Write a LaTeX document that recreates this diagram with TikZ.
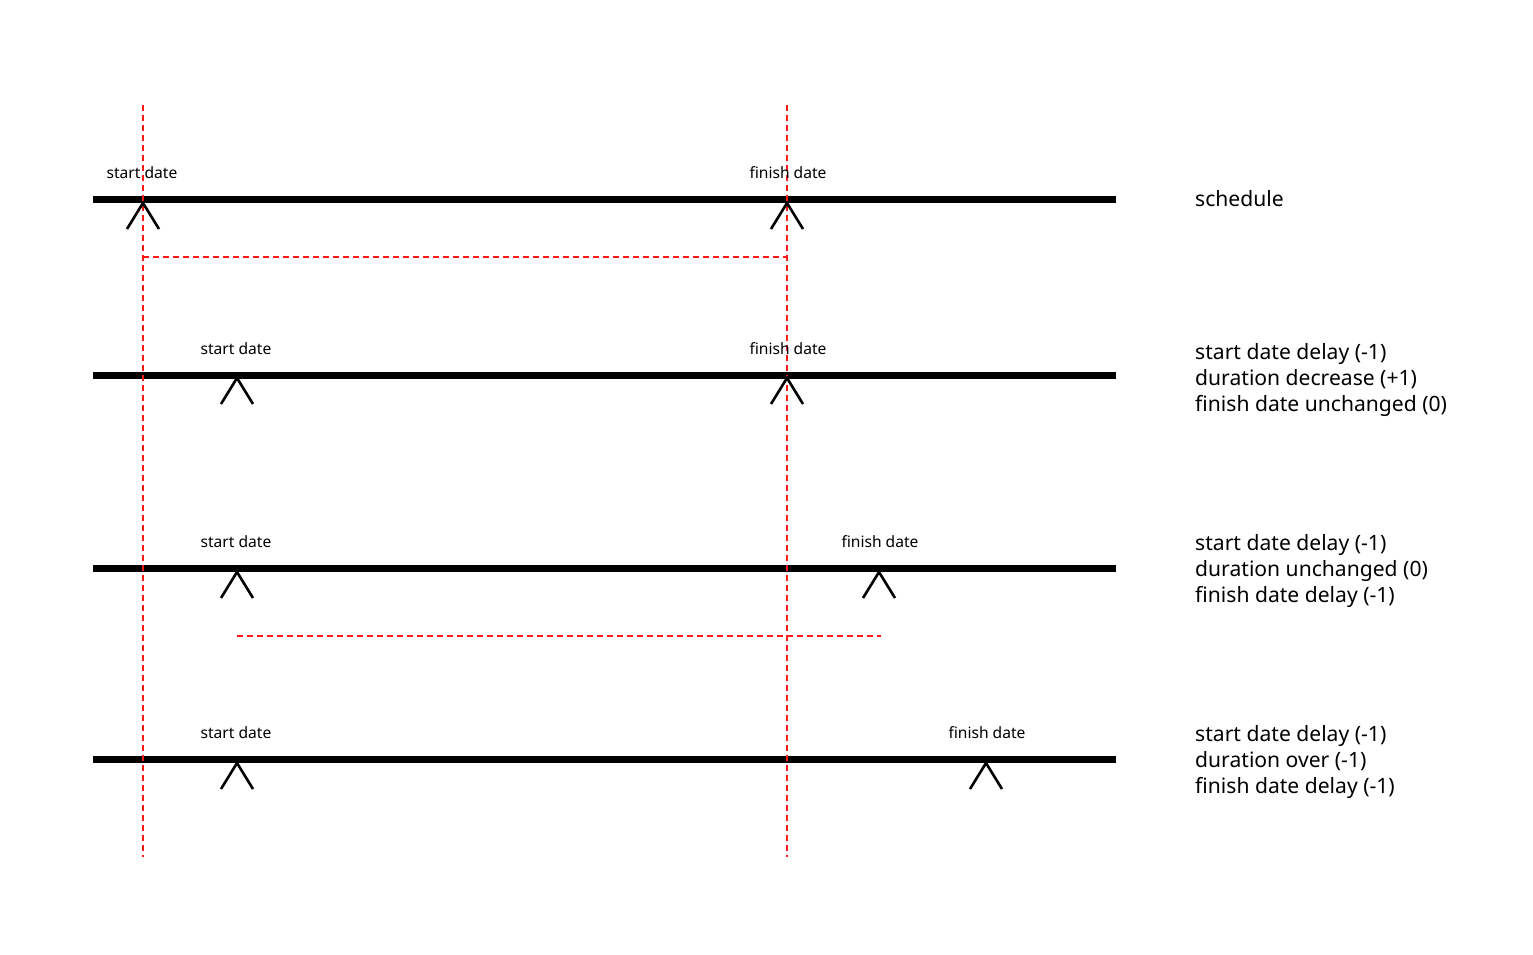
\documentclass[tikz,border=0pt]{standalone}
\usepackage{fontspec}
\setmainfont{Noto Sans}
\begin{document}
\begin{tikzpicture}[x=1pt,y=-1pt,
  bar/.style={line width=7pt,black},
  caret/.style={line width=2.6pt,black},
  guide/.style={red!90!white,line width=1.2pt,dash pattern=on 6pt off 4pt},
  lbl/.style={font=\fontsize{15.6}{17}\selectfont,inner sep=0pt,anchor=base},
  desc/.style={font=\fontsize{21.1}{26}\selectfont,inner sep=0pt,anchor=west,align=left}]
\useasboundingbox (0,0) rectangle (1533,954);
% bars
\foreach \n/\y in {a/199.5,b/375,c/568.5,d/759.5}{
  \coordinate (\n L) at (93,\y);
  \coordinate (\n R) at (1116,\y);
  \draw[bar] (\n L) -- (\n R);
}
% guides
\coordinate (v1t) at (143,105); \coordinate (v1b) at (143,857);
\coordinate (v2t) at (787,105); \coordinate (v2b) at (787,857);
\draw[guide] (v1t) -- (v1b);
\draw[guide] (v2t) -- (v2b);
\coordinate (h1a) at (143,257); \coordinate (h1b) at (787,257);
\coordinate (h2a) at (237,636); \coordinate (h2b) at (881,636);
\draw[guide] (h1a) -- (h1b);
\draw[guide] (h2a) -- (h2b);
% carets
\foreach \n/\x/\y in {ma/143/203,mb/787/203,mc/237/378,md/787/378,me/237/572,mf/879/572,mg/237/763,mh/986/763}{
  \coordinate (\n) at (\x,\y);
  \draw[caret] ([xshift=-16pt,yshift=-26pt]\n) -- (\n) -- ([xshift=16pt,yshift=-26pt]\n);
}
% labels
\node[lbl] (la) at (142,178.5) {start date};
\node[lbl] (lb) at (788,178.5) {finish date};
\node[lbl] (lc) at (236,354.5) {start date};
\node[lbl] (ld) at (788,354.5) {finish date};
\node[lbl] (le) at (236,547.5) {start date};
\node[lbl] (lf) at (880,547.5) {finish date};
\node[lbl] (lg) at (236,738.5) {start date};
\node[lbl] (lh) at (987,738.5) {finish date};
% descriptions
\node[desc] (da) at (1195,199) {schedule};
\node[desc] (db) at (1195,380) {start date delay (-1)\\duration decrease (+1)\\finish date unchanged (0)};
\node[desc] (dc) at (1195,571) {start date delay (-1)\\duration unchanged (0)\\finish date delay (-1)};
\node[desc] (dd) at (1195,762) {start date delay (-1)\\duration over (-1)\\finish date delay (-1)};
\end{tikzpicture}
\end{document}
